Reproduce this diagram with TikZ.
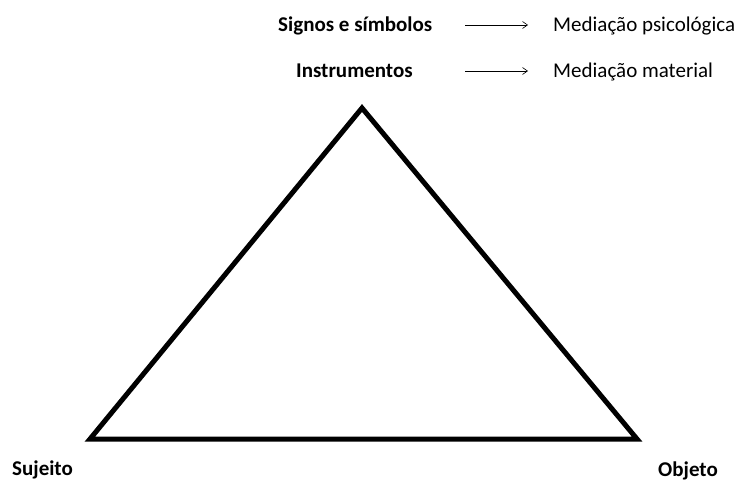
\documentclass[tikz,border=0pt]{standalone}
\usepackage{fontspec}
\setmainfont{Carlito}
\usetikzlibrary{arrows.meta}
\begin{document}
\begin{tikzpicture}[x=1pt,y=-1pt,
  lbl/.style={font=\fontsize{21}{24}\selectfont\bfseries, inner sep=0pt, anchor=base west},
  med/.style={font=\fontsize{21}{24}\selectfont, inner sep=0pt, anchor=base west},
  tri/.style={line width=5pt, line join=miter},
  arr/.style={line width=0.6pt, -{Straight Barb[length=5pt,width=7pt,line width=0.6pt]}}]
\useasboundingbox (0,0) rectangle (736,481);
\coordinate (apex) at (362,108);
\coordinate (bl) at (90,439);
\coordinate (br) at (637,439);
\draw[tri] (apex) -- (br) -- (bl) -- cycle;
\node[lbl] (signos) at (278,31.5) {Signos e símbolos};
\node[lbl] (instr) at (296,77.5) {Instrumentos};
\node[med] (psic) at (553,31.5) {Mediação psicológica};
\node[med] (mat) at (553,77.5) {Mediação material};
\coordinate (a1s) at (465,25);
\coordinate (a1e) at (528,25);
\coordinate (a2s) at (465,71);
\coordinate (a2e) at (528,71);
\draw[arr] (a1s) -- (a1e);
\draw[arr] (a2s) -- (a2e);
\node[lbl] (suj) at (12,475.5) {Sujeito};
\node[lbl] (obj) at (658,476) {Objeto};
\end{tikzpicture}
\end{document}
